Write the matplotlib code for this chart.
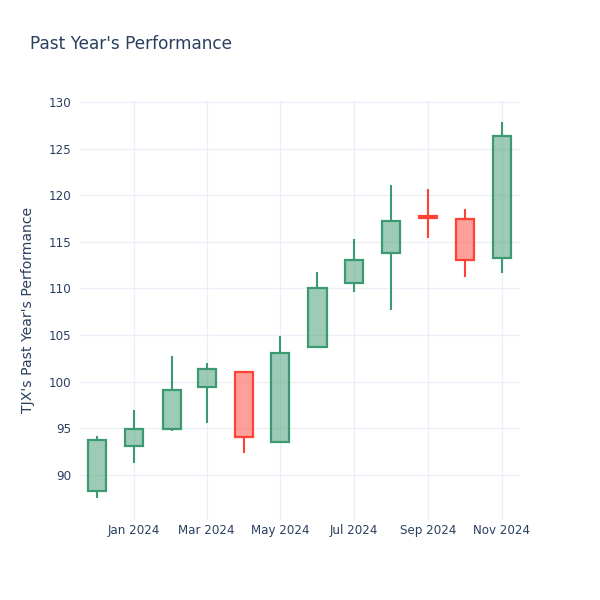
import datetime as dt
import matplotlib
matplotlib.use("Agg")
import matplotlib.pyplot as plt
import matplotlib.dates as mdates

plt.rcParams['font.family'] = ['DejaVu Sans']

months = ["2023-12-01", "2024-01-01", "2024-02-01", "2024-03-01", "2024-04-01", "2024-05-01",
          "2024-06-01", "2024-07-01", "2024-08-01", "2024-09-01", "2024-10-01", "2024-11-01"]
open_prices = [88.3, 93.1, 94.9, 99.4, 101.05, 93.5, 103.7, 110.6, 113.75, 117.8, 117.5, 113.25]
high_prices = [94.2, 97.0, 102.8, 102.0, 101.05, 104.95, 111.75, 115.3, 121.05, 120.7, 118.5, 127.9]
low_prices = [87.5, 91.3, 94.75, 95.6, 92.4, 93.4, 103.7, 109.6, 107.7, 115.4, 111.2, 111.7]
close_prices = [93.75, 94.9, 99.1, 101.4, 94.1, 103.1, 110.05, 113.0, 117.25, 117.6, 113.0, 126.35]

tick_dates = ["2024-01-01", "2024-03-01", "2024-05-01", "2024-07-01", "2024-09-01", "2024-11-01"]
tick_labels = ["Jan 2024", "Mar 2024", "May 2024", "Jul 2024", "Sep 2024", "Nov 2024"]
y_ticks = [90, 95, 100, 105, 110, 115, 120, 125, 130]

text_color = "#2a3f5f"
grid_color = "#EBF0F8"
up_color = "#3D9970"
down_color = "#FF4136"

fig = plt.figure(figsize=(6, 6), dpi=100)
ax = fig.add_axes([80 / 600, 80 / 600, 440 / 600, 420 / 600])

x = mdates.date2num([dt.date.fromisoformat(d) for d in months])
body_width = 15

for xi, o, h, l, c in zip(x, open_prices, high_prices, low_prices, close_prices):
    color = up_color if c >= o else down_color
    top, bottom = max(o, c), min(o, c)
    ax.vlines(xi, top, h, color=color, linewidth=1.5, zorder=3)
    ax.vlines(xi, l, bottom, color=color, linewidth=1.5, zorder=3)
    ax.bar(xi, top - bottom, bottom=bottom, width=body_width, color=color, alpha=0.5,
           linewidth=0, zorder=3)
    ax.bar(xi, top - bottom, bottom=bottom, width=body_width, facecolor="none",
           edgecolor=color, linewidth=1.6, zorder=4)

ax.set_xlim(mdates.date2num(dt.date(2023, 11, 17)), mdates.date2num(dt.date(2024, 11, 16)))
ax.set_ylim(85.17, 130.21)

ax.set_xticks(mdates.date2num([dt.date.fromisoformat(d) for d in tick_dates]))
ax.set_xticklabels(tick_labels)
ax.set_yticks(y_ticks)

ax.grid(True, color=grid_color, linewidth=1, zorder=0)
ax.set_axisbelow(True)
for spine in ax.spines.values():
    spine.set_visible(False)
ax.tick_params(length=0, labelsize=8.6, labelcolor=text_color, pad=6)
ax.tick_params(axis="x", pad=3)

ax.set_ylabel("TJX's Past Year's Performance", fontsize=10.1, color=text_color, labelpad=10)
fig.text(30 / 600, 1 - 44 / 600, "Past Year's Performance", fontsize=12.2, color=text_color,
         va="center", ha="left")

fig.savefig("out.png", dpi=100)
